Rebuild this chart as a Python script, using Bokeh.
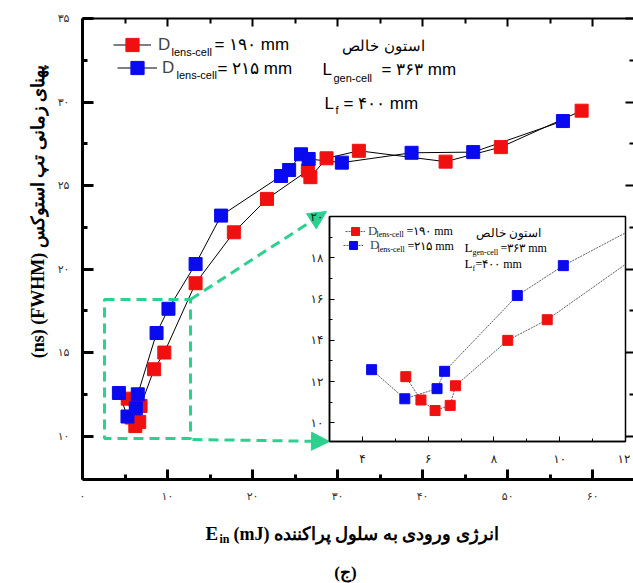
import math
from bokeh.plotting import figure
from bokeh.models import (FixedTicker, LinearAxis, Range1d, Label, BoxAnnotation,
                          Arrow, NormalHead, Legend, LegendItem)
from bokeh.layouts import column
from bokeh.embed import file_html
from bokeh.resources import INLINE

# ---------------- data ----------------
RED_X = [5.32, 5.78, 6.21, 6.67, 6.83, 8.42, 9.62, 13.3, 17.8, 21.7, 26.5, 26.8, 28.7, 32.5, 42.7, 49.2, 58.7]
RED_Y = [12.24, 11.11, 10.6, 10.85, 11.8, 14.0, 15.0, 19.15, 22.2, 24.2, 25.9, 25.5, 26.63, 27.08, 26.43, 27.3, 29.48]
BLUE_X = [4.28, 5.29, 6.27, 6.5, 8.71, 10.11, 13.3, 16.3, 23.35, 24.3, 25.7, 26.6, 30.5, 38.7, 45.95, 56.5]
BLUE_Y = [12.58, 11.17, 11.66, 12.5, 16.17, 17.62, 20.3, 23.2, 25.57, 25.93, 26.87, 26.59, 26.37, 26.96, 27.0, 28.86]

X_TICKS = [0, 10, 20, 30, 40, 50, 60]
X_TICK_LABELS = ["۰", "۱۰", "۲۰", "۳۰", "۴۰", "۵۰", "۶۰"]
X_MINOR = [5, 15, 25, 35, 45, 55]
Y_TICKS = [10, 15, 20, 25, 30, 35]
Y_TICK_LABELS = ["۱۰", "۱۵", "۲۰", "۲۵", "۳۰", "۳۵"]
Y_MINOR = [12.5, 17.5, 22.5, 27.5, 32.5]

INSET_X_TICKS = [4, 6, 8, 10, 12]
INSET_X_TICK_LABELS = ["۴", "۶", "۸", "۱۰", "۱۲"]
INSET_X_MINOR = [3, 5, 7, 9, 11]
INSET_Y_TICKS = [10, 12, 14, 16, 18, 20]
INSET_Y_TICK_LABELS = ["۱۰", "۱۲", "۱۴", "۱۶", "۱۸", "۲۰"]
INSET_Y_MINOR = [11, 13, 15, 17, 19]

SERIES_D = ["= ۱۹۰ mm", "= ۲۱۵  mm"]
Y_TITLE = "(ns) (FWHM) پهنای زمانی تپ استوکس"
X_TITLE_REST = "(mJ) انرژی ورودی به سلول پراکننده"
PANEL_TAG = "(ج)"
NOTE_ACETONE = "استون خالص"

# ---------------- layout constants ----------------
W, H = 633, 583
FL, FR, FT, FB = 82, 633, 18, 479
X_RANGE = (0, 64.8)
Y_RANGE = (7.4, 35.0)
RED = "#f01010"
BLUE = "#0a0af0"
GREEN = "#2ad18f"
SANS = "Liberation Sans"
SERIF = "Liberation Serif"


def mx(px):
    return X_RANGE[0] + (px - FL) / (FR - FL) * (X_RANGE[1] - X_RANGE[0])


def my(py):
    return Y_RANGE[1] - (py - FT) / (FB - FT) * (Y_RANGE[1] - Y_RANGE[0])


def ident(v):
    return v


p = figure(width=W, height=H, x_range=Range1d(*X_RANGE), y_range=Range1d(*Y_RANGE),
           output_backend="svg", toolbar_location=None,
           min_border_left=FL, min_border_right=W - FR, min_border_top=FT, min_border_bottom=H - FB)
p.frame_align = False
p.outline_line_color = None
p.grid.visible = False
p.background_fill_color = "white"
p.border_fill_color = "white"

xa = p.xaxis[0]
xa.ticker = FixedTicker(ticks=X_TICKS, minor_ticks=X_MINOR)
xa.major_label_overrides = {t: s for t, s in zip(X_TICKS, X_TICK_LABELS)}
ya = p.yaxis[0]
ya.ticker = FixedTicker(ticks=Y_TICKS, minor_ticks=Y_MINOR)
ya.major_label_overrides = {t: s for t, s in zip(Y_TICKS, Y_TICK_LABELS)}
for ax, tin, mtin in ((xa, 10, 5), (ya, 11, 5)):
    ax.axis_line_width = 3
    ax.major_tick_line_width = 3
    ax.minor_tick_line_width = 3
    ax.major_tick_in = tin
    ax.major_tick_out = 0
    ax.minor_tick_in = mtin
    ax.minor_tick_out = 0
    ax.major_label_text_font = "DejaVu Sans"
    ax.major_label_text_font_size = "11px"
    ax.major_label_text_color = "#333333"
xa.major_label_standoff = 10
ya.major_label_standoff = 13

top = LinearAxis(ticker=FixedTicker(ticks=X_TICKS, minor_ticks=X_MINOR),
                 major_label_overrides={t: "" for t in X_TICKS},
                 major_label_text_font_size="0px", major_label_standoff=0,
                 axis_line_width=2, major_tick_line_width=2, minor_tick_line_width=2,
                 major_tick_in=8, major_tick_out=0, minor_tick_in=5, minor_tick_out=0)
p.add_layout(top, "above")
right = LinearAxis(ticker=FixedTicker(ticks=Y_TICKS, minor_ticks=Y_MINOR),
                   major_label_overrides={t: "" for t in Y_TICKS},
                   major_label_text_font_size="0px", major_label_standoff=0,
                   axis_line_color=None, major_tick_line_width=2, minor_tick_line_width=2,
                   major_tick_in=8, major_tick_out=0, minor_tick_in=4, minor_tick_out=0)
p.add_layout(right, "right")

lr = p.line(RED_X, RED_Y, line_color="black", line_width=1)
lb = p.line(BLUE_X, BLUE_Y, line_color="black", line_width=1)
sr = p.scatter(RED_X, RED_Y, marker="square", size=13, fill_color=RED, line_color=RED)
sb = p.scatter(BLUE_X, BLUE_Y, marker="square", size=13, fill_color=BLUE, line_color=BLUE)

# legends (swatches + "D")
for rends, loc, gw, so in (([lr, sr], (31, 418), 38, 7), ([lb, sb], (35, 395), 40, 5)):
    leg = Legend(items=[LegendItem(label="D", renderers=rends)], location=loc,
                 glyph_width=gw, glyph_height=33, label_standoff=so, label_height=16,
                 label_text_font=SANS, label_text_font_size="17px",
                 padding=0, margin=0, border_line_color=None, background_fill_alpha=0)
    p.add_layout(leg)


def lab(fig, fx, fy, px, py, text, size, font=SANS, align="left", style="normal", angle=0.0):
    fig.add_layout(Label(x=fx(px), y=fy(py), text=text, text_font=font, text_font_size=f"{size}px",
                         text_align=align, text_baseline="middle", text_font_style=style,
                         text_color="black", angle=angle))


lab(p, mx, my, 171, 51, "lens-cell", 11)
lab(p, mx, my, 214, 44, SERIES_D[0], 17)
lab(p, mx, my, 176, 74, "lens-cell", 11)
lab(p, mx, my, 217, 67.5, SERIES_D[1], 17)
lab(p, mx, my, 383, 45, NOTE_ACETONE, 15, align="center")
lab(p, mx, my, 322, 69, "L", 17)
lab(p, mx, my, 333, 77, "gen-cell", 11)
lab(p, mx, my, 381, 69, "= ۳۶۳ mm", 17)
lab(p, mx, my, 324, 103, "L", 17)
lab(p, mx, my, 335, 109, "f", 11)
lab(p, mx, my, 343, 103, "= ۴۰۰  mm", 17)

# ---------------- inset ----------------
IL, IR, IT, IB = 329, 625, 216, 441
IX_RANGE = (3, 12)
IY_RANGE = (9.1, 20.0)
P2_LEFT, P2_TOP, P2_W, P2_H = 290, 196, 340, 273


def ix(px):
    return IX_RANGE[0] + (px - IL) / (IR - IL) * (IX_RANGE[1] - IX_RANGE[0])


def iy(py):
    return IY_RANGE[1] - (py - IT) / (IB - IT) * (IY_RANGE[1] - IY_RANGE[0])


# zoom box + arrows on main plot
p.add_layout(BoxAnnotation(left=mx(104), right=mx(190), top=my(299), bottom=my(438),
                           fill_alpha=0, line_color=GREEN, line_alpha=1, line_width=3, line_dash="10 6"))
for (x0, y0), (x1, y1) in (((190, 299), (IL - 3, IT - 5)), ((192, 439), (IL, IB))):
    p.add_layout(Arrow(x_start=mx(x0), y_start=my(y0), x_end=mx(x1), y_end=my(y1),
                       line_color=GREEN, line_width=3, line_dash="10 6",
                       end=NormalHead(size=18, fill_color=GREEN, line_color=GREEN)))

p2 = figure(width=P2_W, height=P2_H, x_range=Range1d(*IX_RANGE), y_range=Range1d(*IY_RANGE),
            output_backend="svg", toolbar_location=None,
            min_border_left=IL - P2_LEFT, min_border_right=P2_LEFT + P2_W - IR,
            min_border_top=IT - P2_TOP, min_border_bottom=P2_TOP + P2_H - IB)
p2.frame_align = False
p2.margin = (P2_TOP - H, 0, 0, P2_LEFT)
p2.grid.visible = False
p2.background_fill_color = "white"
p2.border_fill_color = None
p2.outline_line_color = "black"
p2.outline_line_width = 1.5
ixa = p2.xaxis[0]
ixa.ticker = FixedTicker(ticks=INSET_X_TICKS, minor_ticks=INSET_X_MINOR)
ixa.major_label_overrides = {t: s for t, s in zip(INSET_X_TICKS, INSET_X_TICK_LABELS)}
iya = p2.yaxis[0]
iya.ticker = FixedTicker(ticks=INSET_Y_TICKS, minor_ticks=INSET_Y_MINOR)
iya.major_label_overrides = {t: s for t, s in zip(INSET_Y_TICKS, INSET_Y_TICK_LABELS)}
for ax in (ixa, iya):
    ax.axis_line_width = 1.5
    ax.major_tick_in = 5
    ax.major_tick_out = 0
    ax.minor_tick_in = 3
    ax.minor_tick_out = 0
    ax.major_label_text_font = "DejaVu Sans"
    ax.major_label_text_font_size = "12px"
    ax.major_label_text_color = "#222222"
ixa.major_label_standoff = 10
iya.major_label_standoff = 6

ilr = p2.line(RED_X, RED_Y, line_color="#333333", line_width=0.8, line_dash="2 1")
ilb = p2.line(BLUE_X, BLUE_Y, line_color="#333333", line_width=0.8, line_dash="2 1")
isr = p2.scatter(RED_X, RED_Y, marker="square", size=10, fill_color=RED, line_color=RED)
isb = p2.scatter(BLUE_X, BLUE_Y, marker="square", size=10, fill_color=BLUE, line_color=BLUE)

for rends, loc, so in (([ilr, isr], (345 - IL, IB - 241), 3), ([ilb, isb], (343 - IL, IB - 255), 7)):
    leg = Legend(items=[LegendItem(label="D", renderers=rends)], location=loc,
                 glyph_width=20, glyph_height=20, label_standoff=so, label_height=12,
                 label_text_font=SERIF, label_text_font_size="13px",
                 padding=0, margin=0, border_line_color=None, background_fill_alpha=0)
    p2.add_layout(leg)

lab(p2, ix, iy, 376, 234, "lens-cell", 8, font=SERIF)
lab(p2, ix, iy, 406, 230, " =۱۹۰ mm", 12, font=SERIF)
lab(p2, ix, iy, 377, 249, "lens-cell", 8, font=SERIF)
lab(p2, ix, iy, 407, 245, "=۲۱۵ mm", 12, font=SERIF)
lab(p2, ix, iy, 508, 232, NOTE_ACETONE, 12, font=SERIF, align="center")
lab(p2, ix, iy, 464, 247, "L", 13, font=SERIF)
lab(p2, ix, iy, 472, 252, "gen-cell", 8, font=SERIF)
lab(p2, ix, iy, 500, 247, " =۳۶۳ mm", 12, font=SERIF)
lab(p2, ix, iy, 464, 263, "L", 13, font=SERIF)
lab(p2, ix, iy, 472, 268, "f", 8, font=SERIF)
lab(p2, ix, iy, 475, 263, "=۴۰۰ mm", 12, font=SERIF)

# ---------------- transparent overlay for titles outside the frame ----------------
p3 = figure(width=W, height=H, x_range=Range1d(0, W), y_range=Range1d(H, 0),
            output_backend="svg", toolbar_location=None, min_border=0,
            x_axis_location=None, y_axis_location=None)
p3.frame_align = False
p3.margin = (-(P2_TOP + P2_H), 0, 0, 0)
p3.grid.visible = False
p3.outline_line_color = None
p3.background_fill_color = None
p3.border_fill_color = None

lab(p3, ident, ident, 37, 211, Y_TITLE, 18, font=SERIF, align="center", style="bold", angle=math.pi / 2)
lab(p3, ident, ident, 205, 533, "E", 19, font=SERIF, style="bold")
lab(p3, ident, ident, 219, 538, "in", 12, font=SERIF, style="bold")
lab(p3, ident, ident, 233, 533, X_TITLE_REST, 18, font=SERIF, style="bold")
lab(p3, ident, ident, 345, 572, PANEL_TAG, 17, font=SERIF, style="bold", align="center")

layout = column(p, p2, p3)
open("out.html", "w").write(file_html(layout, INLINE))
